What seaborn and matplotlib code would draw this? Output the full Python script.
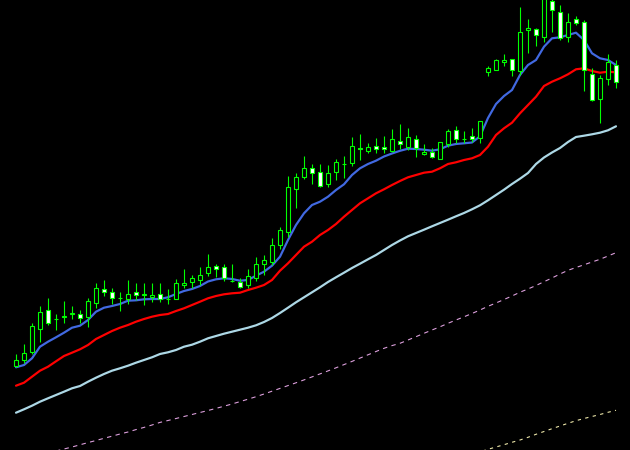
import numpy as np
import pandas as pd
import matplotlib
matplotlib.use("Agg")
import matplotlib.pyplot as plt
import seaborn as sns

# Chart levels (screen-style scale: smaller = higher price)
high_ = [354, 344, 323, 306, 298, 314, 301, 306, 310, 298, 283, 280, 288, 292, 280, 283,
         283, 283, 283, 289, 279, 269, 275, 267.3, 253.5, 264.3, 264, 264, 278.3, 269, 257.3, 255,
         238.3, 227.3, 176, 173.3, 156, 164, 164, 165, 158.7, 156, 136.7, 134.2, 143.3, 138, 136, 128.5,
         124.2, 128, 135, 144, 147.5, 141.7, 128.5, 126, 131, 127.5, 120.5, 66.3, 59.3, 54, 59, 7,
         19, 28.3, -8, -5, 5, 13.3, 16, 20, 68.3, 75, 54, 60]
low_ = [367, 363, 354, 342, 325, 330, 323, 319, 323, 327, 308, 296, 304, 311, 304, 300,
        305, 302, 302, 304, 299.3, 288.3, 288, 285, 276, 276.7, 280.7, 282.3, 288.3, 288.3, 280.7, 275,
        265, 249.3, 236.7, 207.5, 179, 184, 187.3, 187.3, 180, 178, 165.5, 159.5, 152.7, 153.3, 153, 152,
        148.8, 150, 156.7, 155, 158.3, 159.3, 147, 143.3, 143, 141.7, 143.3, 75.8, 70, 65.7, 75.8, 75,
        53.3, 45.7, 41.7, 31.7, 39.5, 41.7, 25, 90.7, 101, 122.7, 85, 88.3]
open_ = [366, 360, 352, 329, 310, 319, 317, 314, 314, 317, 303, 289, 292, 297.5, 298.7, 292.3,
         295, 297.3, 294.3, 298.5, 298.7, 285.3, 282.3, 279.7, 273.3, 266.3, 267.3, 280.5, 282.3, 285, 278.3, 263.7,
         261.7, 244.7, 232.3, 189.3, 176.7, 167.5, 171.5, 184.3, 171.7, 163.7, 162.7, 147.5, 150.7, 146, 147.2, 150.5,
         140.5, 146.7, 139.3, 153.5, 152.2, 158.7, 144, 130.2, 139.3, 136.3, 138, 72.3, 69.7, 62.3, 59.3, 71.3,
         29.7, 29.3, 37.3, 0.5, 11.7, 37.3, 19.3, 22.3, 74, 99.3, 79.3, 65]
close_ = [360, 353, 326, 312, 323, 319, 316, 313, 317.5, 301, 288, 292, 298, 297.5, 294.3, 295.3,
          294, 295, 299.3, 298.5, 283.3, 283.3, 278.3, 275, 267, 269.3, 278.3, 280.5, 286.7, 276, 264.3, 260.3,
          245.3, 230.3, 187.3, 177.3, 168.3, 173.3, 186.3, 173.3, 162.3, 163.7, 146, 149.3, 147.3, 149.3, 149.3, 139.3,
          144.3, 137.3, 148.3, 151.8, 156.5, 142.3, 131, 139.3, 139.3, 139.3, 121.3, 68.3, 60.3, 60.3, 69.5, 31.5,
          28.3, 35.3, -2, 10, 38.3, 22.3, 23.3, 70, 100.3, 78.3, 62, 81.7]

ma_fast = [367.3, 365, 358.3, 346.7, 341.7, 337.3, 332.7, 327.7, 325.7, 320, 311.7, 307.7, 306, 304, 300.7, 300.3,
           299.3, 299, 299, 297.3, 294, 291, 289, 286, 281.5, 279.3, 278.3, 279, 280.7, 280, 275.7, 271.7,
           265.7, 256.7, 240, 225, 213.3, 205, 201.7, 196.7, 190, 184.3, 175, 168.3, 164, 160.7, 156.5, 153.5,
           150.8, 148.7, 149, 149.7, 150.7, 149.3, 145.7, 144, 143.3, 142.5, 136.3, 118, 104, 96, 90, 75,
           65, 60, 46.7, 38.3, 37.3, 35, 32.7, 40, 53.3, 58.3, 60, 65]
ma_mid = [385.7, 382.7, 376.7, 370.7, 366.7, 361.3, 356, 352.7, 349.3, 345, 339, 335, 331, 327.7, 325, 321.7,
          319, 316.7, 315, 314, 311, 308.3, 305, 301.7, 298.3, 296, 294.3, 293.3, 292.7, 290, 287.7, 285,
          280, 270.7, 263.3, 255, 246.7, 241.7, 235, 230, 224, 216.7, 210, 203.3, 198.3, 193.3, 189.3, 185,
          181, 177.3, 175, 172.7, 171.7, 168.3, 164, 162.3, 160, 158.3, 155, 146.7, 135, 128.3, 122.7, 113.3,
          105, 96.7, 86, 81.7, 78.3, 74.3, 69.3, 68.3, 71, 72.7, 71.7, 72.3]
ma_slow = [412.7, 409.3, 405.7, 401.7, 398.3, 395, 391.7, 388.3, 386, 381.7, 377.7, 374, 370.7, 368.3, 365.7, 362.7,
           360, 357.3, 354, 352.3, 350, 346.7, 344.7, 341.7, 338.3, 336, 333.7, 331.7, 329.7, 327.7, 325.3, 322,
           318, 313, 307.7, 302.3, 297.3, 292.3, 287.3, 282, 277.3, 272.7, 268, 263.7, 259.3, 255, 250, 245,
           240.5, 236.3, 233, 229.7, 226.3, 223, 219.7, 216.3, 213, 209.3, 205.3, 200.3, 195, 189.7, 184, 178.7,
           173, 164, 157.5, 152.5, 148, 142, 137, 135.7, 134.3, 132.7, 130.3, 126.3]
ma_long = [461.5, 459.5, 457.3, 455.2, 453, 451, 449, 447, 444.8, 442.6, 440.5, 438.3, 436.2, 434, 432, 429.6,
           427.4, 425, 422.4, 420.5, 418.5, 416.5, 414.5, 412.5, 410.5, 408.4, 406.2, 404, 401.6, 399.2, 396.7, 394,
           391.2, 388.4, 385.6, 382.8, 379.9, 376.9, 373.9, 370.9, 367.8, 364.6, 361.4, 358.1, 354.8, 351.5, 348.3, 345.6,
           343.3, 340, 336.7, 333.3, 330, 326.8, 323.3, 320, 316.8, 313.5, 310, 306.3, 303, 299.5, 296, 292.2,
           289, 285.5, 281.7, 278, 274, 270.3, 267.5, 264.8, 262, 259.3, 256, 252.7]
ma_vlong = [np.nan] * 58 + [451.8, 449.3, 447, 444.7, 442.3, 440, 437.3, 434.3, 431.5, 428.7, 426, 423.3,
                            420.7, 418.5, 416.5, 414.5, 412.3, 410.3]

bar = np.arange(len(open_))
df = pd.DataFrame({"bar": bar, "open": open_, "high": high_, "low": low_, "close": close_,
                   "fast": ma_fast, "mid": ma_mid, "slow": ma_slow, "long": ma_long, "vlong": ma_vlong})

sns.set_theme(style="dark", rc={"axes.facecolor": "black", "figure.facecolor": "black",
                                "axes.edgecolor": "black"})

fig = plt.figure(figsize=(6.3, 4.5), dpi=100)
ax = fig.add_axes([0, 0, 1, 1])
ax.set_facecolor("black")

px = 0.72  # one pixel in points

sns.lineplot(data=df, x="bar", y="long", ax=ax, color="#DDA0DD", lw=px * 1.1,
             linestyle=(0, (4, 4)), zorder=1)
sns.lineplot(data=df, x="bar", y="vlong", ax=ax, color="#EEE8AA", lw=px * 1.1,
             linestyle=(0, (3, 4)), zorder=1)
sns.lineplot(data=df, x="bar", y="slow", ax=ax, color="#ADD8E6", lw=px * 2.2, zorder=2)
sns.lineplot(data=df, x="bar", y="mid", ax=ax, color="#FF0000", lw=px * 2.2, zorder=2)
sns.lineplot(data=df, x="bar", y="fast", ax=ax, color="#4169E1", lw=px * 2.2, zorder=2)

green = "#00FF00"
ax.vlines(df["bar"], df["high"], df["low"], color=green, lw=px * 1.1, zorder=3)
bull = df["close"] < df["open"]
fills = np.where(bull, "black", "white")
ax.bar(df["bar"], df["close"] - df["open"], bottom=df["open"], width=0.55,
       color=fills, edgecolor=green, linewidth=px * 1.1, zorder=4)

ax.set_xlim(-2, 76.75)
ax.set_ylim(450, 0)
ax.set_axis_off()

fig.savefig("out.png", dpi=100, facecolor="black")
